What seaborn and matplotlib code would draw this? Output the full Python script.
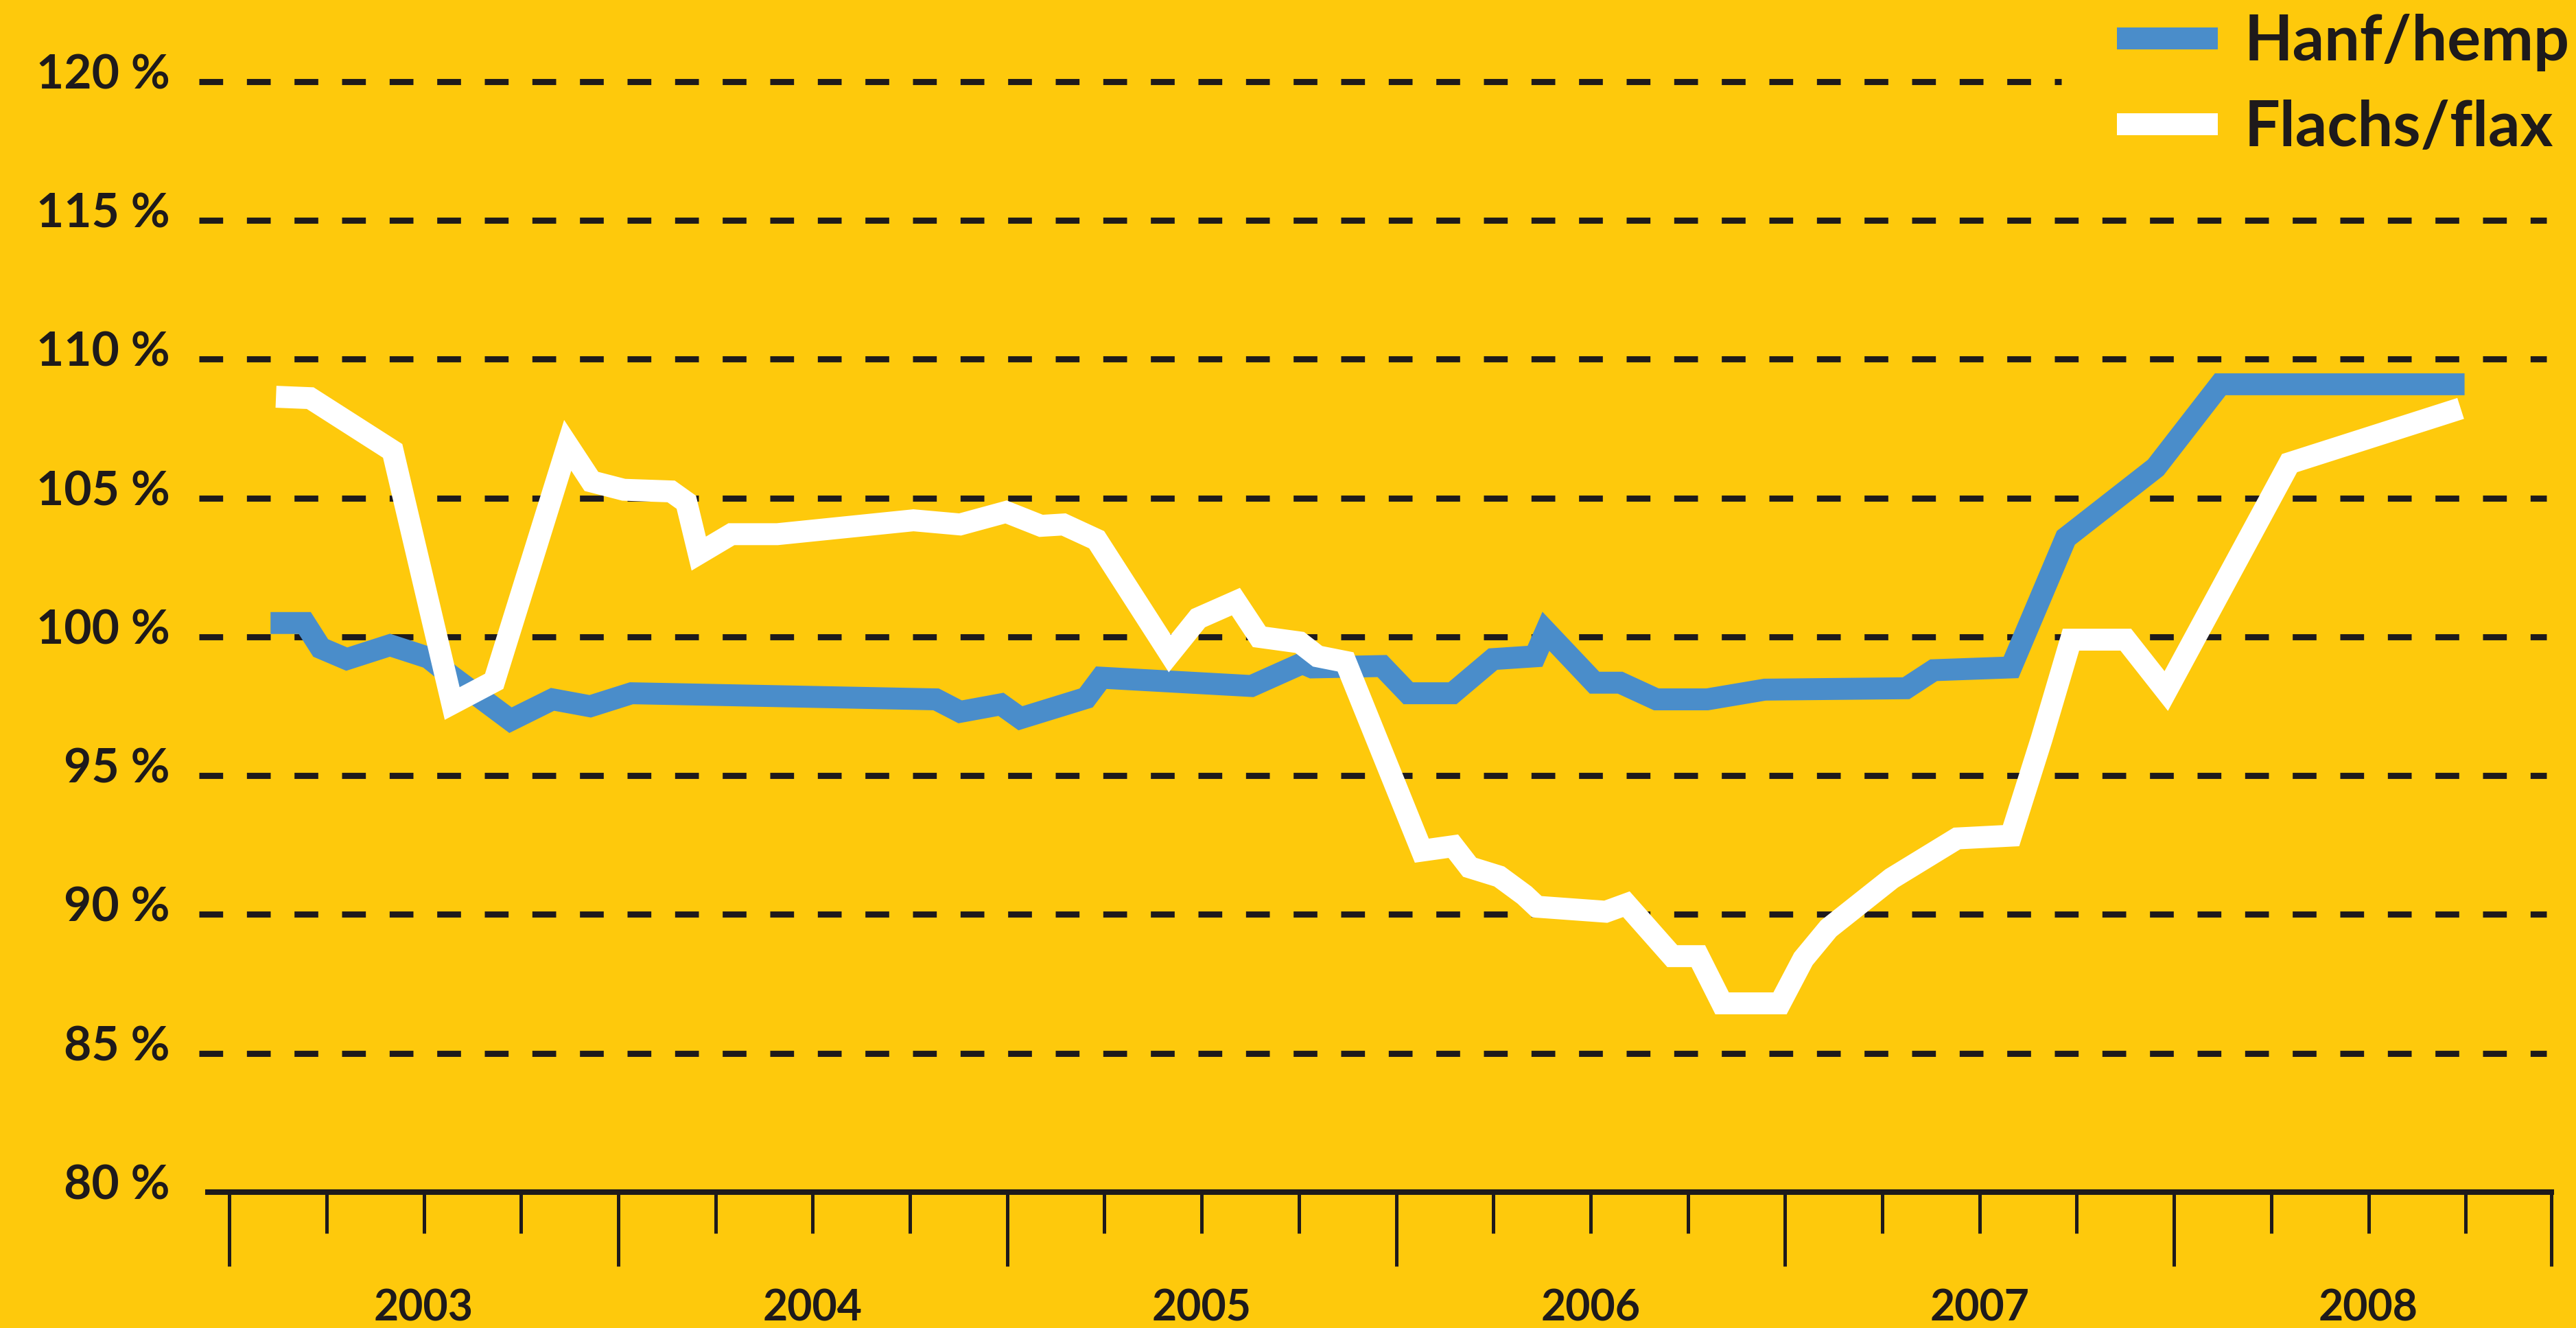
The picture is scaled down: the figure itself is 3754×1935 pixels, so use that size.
import pandas as pd
import numpy as np
import seaborn as sns
import matplotlib.pyplot as plt
import matplotlib.transforms as mtransforms

# values (decimal year, index in %)
hemp_years = [2003.106, 2003.194, 2003.235, 2003.302, 2003.413, 2003.512, 2003.570, 2003.723,
              2003.831, 2003.928, 2004.034, 2004.817, 2004.879, 2004.984, 2005.034, 2005.203,
              2005.242, 2005.628, 2005.759, 2005.784, 2005.964, 2006.031, 2006.145, 2006.249,
              2006.357, 2006.385, 2006.510, 2006.576, 2006.669, 2006.800, 2006.948, 2007.311,
              2007.382, 2007.581, 2007.722, 2007.953, 2008.119, 2008.747]
hemp_values = [100.5, 100.5, 99.6, 99.2, 99.7, 99.25, 98.6, 97.0,
               97.75, 97.5, 97.97, 97.75, 97.3, 97.57, 97.07, 97.8,
               98.53, 98.23, 99.05, 98.9, 98.95, 97.97, 97.97, 99.2,
               99.3, 100.2, 98.35, 98.35, 97.75, 97.75, 98.1, 98.15,
               98.8, 98.9, 103.57, 106.1, 109.1, 109.1]

flax_years = [2003.120, 2003.208, 2003.420, 2003.573, 2003.681, 2003.870, 2003.931, 2004.014,
              2004.136, 2004.175, 2004.207, 2004.291, 2004.409, 2004.759, 2004.879, 2004.997,
              2005.087, 2005.145, 2005.230, 2005.418, 2005.491, 2005.588, 2005.648, 2005.752,
              2005.798, 2005.870, 2006.066, 2006.147, 2006.189, 2006.265, 2006.330, 2006.362,
              2006.539, 2006.592, 2006.710, 2006.777, 2006.838, 2006.987, 2007.047, 2007.112,
              2007.274, 2007.442, 2007.581, 2007.659, 2007.735, 2007.876, 2007.980, 2008.297,
              2008.737]
flax_values = [108.65, 108.6, 106.7, 97.6, 98.4, 106.9, 105.6, 105.3,
               105.24, 104.85, 103.0, 103.7, 103.7, 104.2, 104.05, 104.5,
               104.0, 104.05, 103.5, 99.4, 100.67, 101.27, 100.0, 99.8,
               99.3, 99.1, 92.3, 92.46, 91.7, 91.37, 90.7, 90.28,
               90.1, 90.37, 88.5, 88.5, 86.8, 86.8, 88.4, 89.5,
               91.3, 92.74, 92.84, 96.3, 99.9, 99.9, 98.05, 106.26,
               108.23]

series_names = ['Hanf/hemp', 'Flachs/flax']
y_ticks = [80, 85, 90, 95, 100, 105, 110, 115, 120]
years = [2003, 2004, 2005, 2006, 2007, 2008]
x_end = 2008.97

bg = '#FEC90C'
ink = '#1E1A1B'
colors = {'Hanf/hemp': '#4A8DCA', 'Flachs/flax': '#FFFFFF'}

df = pd.concat([
    pd.DataFrame({'year': hemp_years, 'value': hemp_values, 'series': series_names[0]}),
    pd.DataFrame({'year': flax_years, 'value': flax_values, 'series': series_names[1]}),
])

sns.set_style('white')
plt.rcParams['font.family'] = ['Lato', 'DejaVu Sans']
plt.rcParams['font.weight'] = 'bold'

fig = plt.figure(figsize=(18.77, 9.675), dpi=200, facecolor=bg)
ax = fig.add_axes([303 / 3754, 198 / 1935, (3718 - 303) / 3754, (1737 - 119) / 1935])
ax.set_facecolor(bg)

# dashed gridlines (120 stops short for the legend)
for v in y_ticks[1:]:
    g_end = 2007.71 if v == 120 else 2008.957
    ax.hlines(v, 2002.922, g_end, colors=ink, linewidth=3.2,
              linestyles=(0, (3.9, 3.9)), clip_on=False, zorder=1)

sns.lineplot(data=df, x='year', y='value', hue='series', hue_order=series_names,
             palette=colors, estimator=None, sort=False, linewidth=11.5, ax=ax, zorder=3)
for ln in ax.get_lines():
    ln.set_solid_capstyle('butt')
    ln.set_solid_joinstyle('miter')

ax.set_xlim(2002.945, x_end)
ax.set_ylim(80, 120)

for s in ['top', 'right', 'left']:
    ax.spines[s].set_visible(False)
ax.spines['bottom'].set_color(ink)
ax.spines['bottom'].set_linewidth(2.9)

ax.set_yticks(y_ticks)
ax.set_yticklabels([f'{v} %' for v in y_ticks])
ax.tick_params(axis='y', left=False, length=0, pad=20, labelsize=25, labelcolor=ink)
offset = mtransforms.ScaledTranslation(0, 5.4 / 72, fig.dpi_scale_trans)
for lab in ax.get_yticklabels():
    lab.set_transform(lab.get_transform() + offset)
    lab.set_fontweight('bold')

ax.set_xticks(years + [x_end])
ax.set_xticks([y + q for y in years for q in (0.25, 0.5, 0.75)], minor=True)
ax.set_xticklabels([])
ax.tick_params(axis='x', which='both', bottom=True, labelbottom=False)
ax.tick_params(axis='x', which='major', length=39, width=1.8, color=ink, direction='out')
ax.tick_params(axis='x', which='minor', length=21.6, width=1.8, color=ink, direction='out')

for y in years:
    ax.text(y + 0.5, -0.105, str(y), transform=ax.get_xaxis_transform(),
            ha='center', va='center', fontsize=22.5, fontweight='bold', color=ink)

ax.set_xlabel('')
ax.set_ylabel('')

leg = ax.legend(loc='upper left', bbox_to_anchor=(3085 / 3754, 1 - 20 / 1935),
                bbox_transform=fig.transFigure, frameon=False, fontsize=33,
                handlelength=1.6, handletextpad=0.42, labelspacing=0.45, borderpad=0,
                borderaxespad=0)
for t in leg.get_texts():
    t.set_color(ink)
    t.set_fontweight('bold')
for h in leg.get_lines():
    h.set_solid_capstyle('butt')

fig.savefig('out.png', dpi=200, facecolor=bg)
